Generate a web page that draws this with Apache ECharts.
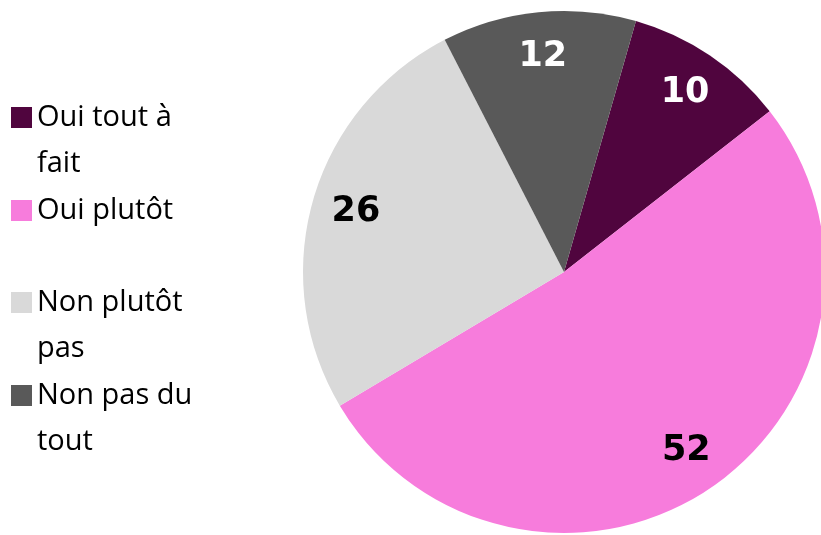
<!DOCTYPE html>
<html><head><meta charset="utf-8">
<script src="https://cdn.jsdelivr.net/npm/echarts@6/dist/echarts.min.js"></script>
<style>html,body{margin:0;padding:0;background:#fff}#c{width:821px;height:535px}</style>
</head><body><div id="c"></div>
<script>
const categories = ['Oui tout à fait', 'Oui plutôt', 'Non plutôt pas', 'Non pas du tout'];
const legendLabels = ['Oui tout à\nfait', 'Oui plutôt', 'Non plutôt\npas', 'Non pas du\ntout'];
const values = [10, 52, 26, 12];
const colors = ['#50053E', '#F77CDC', '#D9D9D9', '#595959'];
const labelColors = ['#ffffff', '#000000', '#000000', '#ffffff'];

const chart = echarts.init(document.getElementById('c'));
const LH = 46;
const legendCenters = [117.5, 210.5, 302.5, 395.5];
const legends = categories.map((name, i) => {
  const twoLines = legendLabels[i].indexOf('\n') >= 0;
  return {
    orient: 'vertical', left: 11,
    top: twoLines ? legendCenters[i] - 69 : legendCenters[i] - 23,
    padding: 0,
    itemWidth: 21, itemHeight: 21,
    icon: 'rect',
    selectedMode: false,
    data: [name],
    formatter: () => (twoLines ? '\n' : '') + legendLabels[i],
    textStyle: { fontFamily: 'Open Sans', fontSize: 29, color: '#000', lineHeight: LH }
  };
});
const dataVis = categories.map((n, i) => ({ name: n, value: values[i], itemStyle: { color: colors[i] } }));
const dataLbl = categories.map((n, i) => ({ name: n, value: values[i], itemStyle: { color: 'rgba(0,0,0,0)' },
  label: { color: labelColors[i] } }));
const C = [564, 272], R = 261;
chart.setOption({
  animation: false,
  legend: legends,
  series: [
    { type: 'pie', center: C, radius: [0, R], startAngle: 74, clockwise: true,
      label: { show: false }, labelLine: { show: false }, data: dataVis, silent: true,
      itemStyle: { borderWidth: 0 } },
    { type: 'pie', center: C, radius: [166, R], startAngle: 74, clockwise: true,
      silent: true, labelLine: { show: false },
      label: { show: true, position: 'inside', fontFamily: 'DejaVu Sans', fontWeight: 'bold', fontSize: 35,
        formatter: '{c}' },
      data: dataLbl, itemStyle: { borderWidth: 0 } }
  ]
});
</script></body></html>
